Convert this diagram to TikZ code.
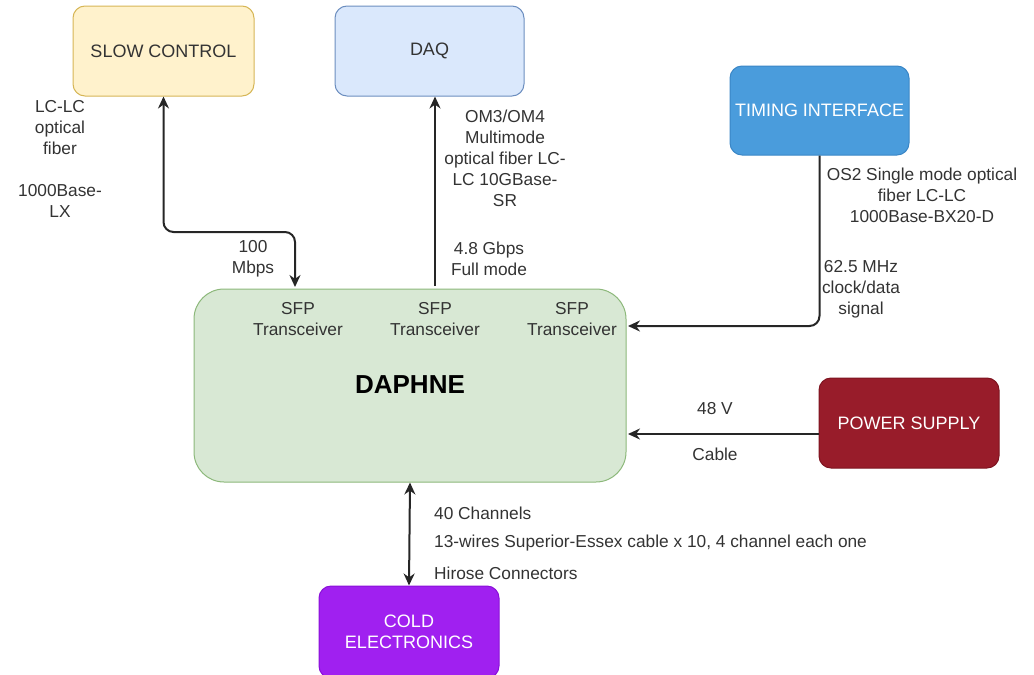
\documentclass[tikz,border=0pt]{standalone}
\usepackage{fontspec}
\setmainfont{Liberation Sans}
\usetikzlibrary{arrows.meta,positioning,calc}
\definecolor{slowfill}{HTML}{FFF2CC}
\definecolor{slowdraw}{HTML}{D6B656}
\definecolor{daqfill}{HTML}{DAE8FC}
\definecolor{daqdraw}{HTML}{6C8EBF}
\definecolor{timfill}{HTML}{4A9CDC}
\definecolor{timdraw}{HTML}{3A86C6}
\definecolor{dapfill}{HTML}{D8E8D4}
\definecolor{dapdraw}{HTML}{8CB87A}
\definecolor{pwrfill}{HTML}{981C2A}
\definecolor{pwrdraw}{HTML}{7E1420}
\definecolor{coldfill}{HTML}{A020F0}
\definecolor{colddraw}{HTML}{8A10D8}
\definecolor{txt}{HTML}{333333}
\begin{document}
\begin{tikzpicture}[x=1pt,y=-1pt,
  box/.style={rounded corners=12pt, line width=1pt, inner sep=0pt, align=center,
    font=\fontsize{18}{21}\selectfont},
  lbl/.style={text=txt, align=center, inner sep=0pt, font=\fontsize{17.3}{21}\selectfont},
  conn/.style={line width=2pt, draw=black!85, -{Stealth[length=12pt,width=11pt]}},
  conn2/.style={line width=2pt, draw=black!85, {Stealth[length=12pt,width=11pt]}-{Stealth[length=12pt,width=11pt]}}]
\useasboundingbox (0,0) rectangle (1034,675);
% boxes
\node[box, fill=slowfill, draw=slowdraw, text=txt, minimum width=181pt, minimum height=90pt] (slow) at (163.5,51) {SLOW CONTROL};
\node[box, fill=daqfill, draw=daqdraw, text=txt, minimum width=189pt, minimum height=90pt] (daq) at (429.5,51) {DAQ};
\node[box, fill=timfill, draw=timdraw, text=white, minimum width=179pt, minimum height=89pt] (tim) at (819.5,110.5) {TIMING INTERFACE};
\node[box, rounded corners=30pt, fill=dapfill, draw=dapdraw, minimum width=432pt, minimum height=193pt] (dap) at (410,385.5) {};
\node[box, fill=pwrfill, draw=pwrdraw, text=white, minimum width=180pt, minimum height=90pt] (pwr) at (909,423) {POWER SUPPLY};
\node[box, fill=coldfill, draw=colddraw, text=white, minimum width=180pt, minimum height=92pt] (cold) at (409,632) {COLD\\ELECTRONICS};
% inside DAPHNE
\node[lbl] (sfp1) at (298,319.5) {SFP\\Transceiver};
\node[lbl] (sfp2) at (435,319.5) {SFP\\Transceiver};
\node[lbl] (sfp3) at (572,319.5) {SFP\\Transceiver};
\node[inner sep=0pt, font=\fontsize{26}{28}\selectfont\bfseries] (dapt) at (410,385) {DAPHNE};
% connectors
\coordinate (scin) at (295,287);
\coordinate (scmid) at (295,232);
\draw[conn2, rounded corners=10pt] (slow.south) |- (scmid) -- (scin);
\coordinate (daqout) at (435,286);
\draw[conn] (daqout) -- (daq.south -| daqout);
\coordinate (timin) at (628,326);
\draw[conn, rounded corners=10pt] (tim.south) |- (timin);
\coordinate (pwrin) at (628,434);
\draw[conn] (pwr.west |- pwrin) -- (pwrin);
\draw[conn2] (dap.south) -- (cold.north);
% labels
\node[lbl] (l1) at (60,127.5) {LC-LC\\optical\\fiber};
\node[lbl] (l2) at (60,200.5) {1000Base-\\LX};
\node[lbl] (l3) at (253,259) {100\\Mbps};
\node[lbl] (l4) at (505,158.5) {OM3/OM4\\Multimode\\optical fiber LC-\\LC 10GBase-\\SR};
\node[lbl] (l5) at (489,259) {4.8 Gbps\\Full mode};
\node[lbl] (l6) at (922,195) {OS2 Single mode optical\\fiber LC-LC\\1000Base-BX20-D};
\node[lbl] (l7) at (861,289.5) {62.5 MHz\\clock/data\\signal};
\node[lbl] (l8) at (715,409) {48 V};
\node[lbl] (l9) at (715,454) {Cable};
\node[lbl, anchor=west] (l10) at (434,513) {40 Channels};
\node[lbl, anchor=west] (l11) at (434,543) {13-wires Superior-Essex cable x 10, 4 channel each one};
\node[lbl, anchor=west] (l12) at (434,573) {Hirose Connectors};
\end{tikzpicture}
\end{document}
